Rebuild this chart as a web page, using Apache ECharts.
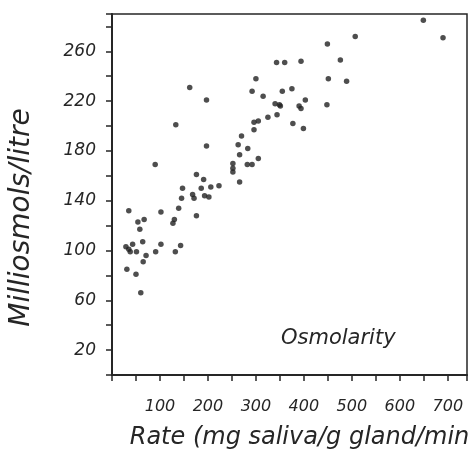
<!DOCTYPE html>
<html>
<head>
<meta charset="utf-8">
<script src="https://cdn.jsdelivr.net/npm/echarts@6/dist/echarts.min.js"></script>
<style>html,body{margin:0;padding:0;background:#fff}#c{width:473px;height:458px}</style>
</head>
<body>
<div id="c"></div>
<script>
// Rate (mg saliva/g gland/min)
const rateValues = [162,197,133,197,449,343,360,394,476,300,451,489,292,355,375,315,403,340,349,351,390,394,448,325,344,296,305,377,296,399,270,263,283,266,305,649,507,690,90,176,191,147,186,206,223,145,168,171,193,202,139,35,102,130,127,176,54,67,58,64,102,143,29,35,43,38,51,91,132,71,65,31,50,60,252,252,252,282,292,266];
// Milliosmols/litre
const osmValues = [231,221,201,184,266,251,251,252,253,238,238,236,228,228,230,224,221,218,217,216,216,214,217,207,209,203,204,202,197,198,192,185,182,177,174,285,272,271,169,161,157,150,150,151,152,142,145,142,144,143,134,132,131,125,122,128,123,125,117,107,105,104,103,101,105,99,99,99,99,96,91,85,81,66,170,166,163,169,169,155];
const xTicks = [100,200,300,400,500,600,700];
const yTicks = [20,60,100,140,180,220,260];

const points = rateValues.map((x, i) => [x, osmValues[i]]);
const fontFam = '"DejaVu Sans", sans-serif';
const ink = '#262626';

const chart = echarts.init(document.getElementById('c'), null, {renderer: 'canvas'});
chart.setOption({
  animation: false,
  backgroundColor: '#fff',
  title: {
    text: 'Osmolarity',
    left: 276, top: 323,
    textStyle: {fontFamily: fontFam, fontStyle: 'italic', fontWeight: 'normal', fontSize: 21, color: ink}
  },
  grid: {left: 111, top: 14, right: 6, bottom: 83, show: true, borderColor: ink, borderWidth: 1.5},
  xAxis: {
    type: 'value', min: 0, max: 740, interval: 50,
    name: 'Rate (mg saliva/g gland/min',
    nameLocation: 'middle', nameGap: 51,
    nameTextStyle: {fontFamily: fontFam, fontStyle: 'italic', fontSize: 24, color: ink, padding: [0, 0, 0, 20]},
    splitLine: {show: false},
    axisLine: {show: true, lineStyle: {color: ink, width: 2}},
    axisTick: {show: true, length: 6, lineStyle: {color: ink, width: 1.5}},
    axisLabel: {
      margin: 24, color: ink, fontFamily: fontFam, fontStyle: 'italic', fontSize: 16,
      formatter: v => xTicks.includes(v) ? String(v) : ''
    }
  },
  yAxis: {
    type: 'value', min: 0, max: 290, interval: 20,
    name: 'Milliosmols/litre',
    nameLocation: 'middle', nameGap: 76, nameRotate: 90,
    nameTextStyle: {fontFamily: fontFam, fontStyle: 'italic', fontSize: 28, color: ink, padding: [0, 46, 0, 0]},
    splitLine: {show: false},
    axisLine: {show: true, lineStyle: {color: ink, width: 2}},
    axisTick: {show: true, length: 6, lineStyle: {color: ink, width: 1.5}},
    axisLabel: {
      margin: 16, color: ink, fontFamily: fontFam, fontStyle: 'italic', fontSize: 17,
      formatter: v => yTicks.includes(v) ? String(v) : ''
    }
  },
  series: [{
    type: 'scatter',
    data: points,
    symbol: 'circle',
    symbolSize: 5.5,
    itemStyle: {color: '#222'}
  }]
});
</script>
</body>
</html>
